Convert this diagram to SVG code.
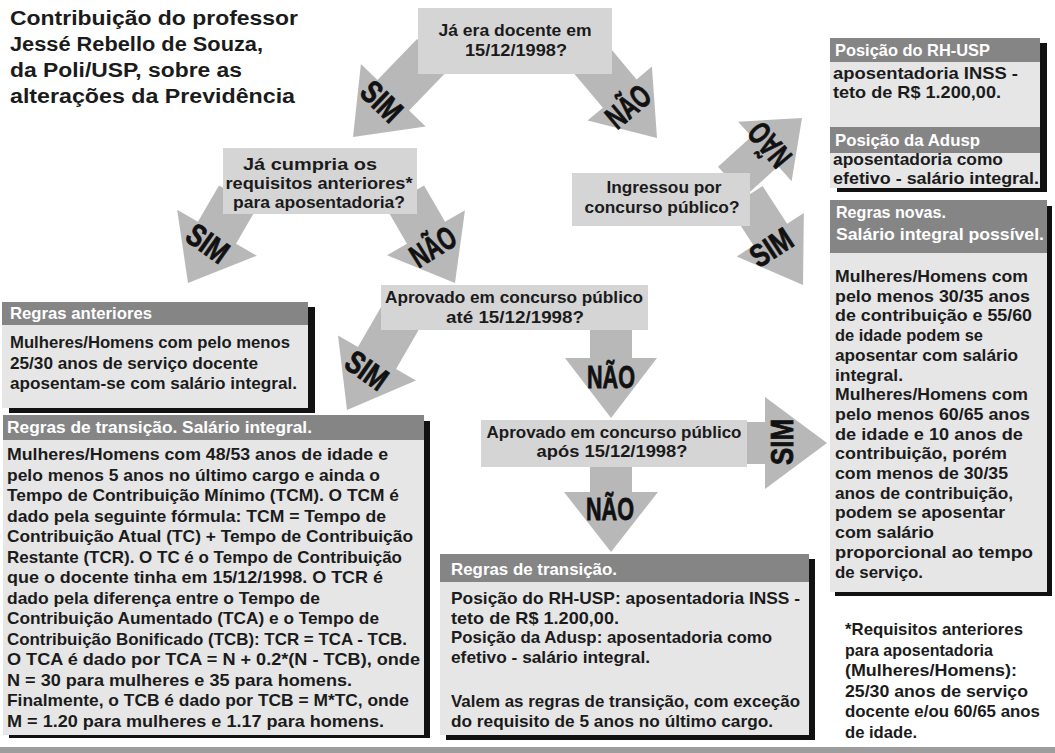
<svg xmlns="http://www.w3.org/2000/svg" width="1055" height="753" viewBox="0 0 1055 753">
<style>
.t{font-family:"Liberation Sans",Arial,sans-serif;font-weight:bold;fill:#1b1b1b}
.ti{font-size:20px}
.b{font-size:17px}
.h{font-size:16.5px;fill:#ffffff}
.q{font-size:16.5px;text-anchor:middle}
.lbl{font-family:"Liberation Sans",Arial,sans-serif;font-weight:bold;font-size:32px;text-anchor:middle;fill:#111;stroke:#111;stroke-width:0.8}
.arrow{fill:#b8b8b9}
.qbox{fill:#d5d5d6}
.body{fill:#e6e6e7}
.head{fill:#858586}
.shadow{fill:#111}
</style>
<rect x="0" y="0" width="1055" height="753" fill="#ffffff"/>
<rect x="0" y="747" width="1055" height="6" fill="#9d9d9d"/>

<g id="title">
<text class="t ti" x="10" y="25" textLength="288" lengthAdjust="spacingAndGlyphs">Contribuição do professor</text>
<text class="t ti" x="10" y="51" textLength="253" lengthAdjust="spacingAndGlyphs">Jessé Rebello de Souza,</text>
<text class="t ti" x="10" y="77" textLength="232" lengthAdjust="spacingAndGlyphs">da Poli/USP, sobre as</text>
<text class="t ti" x="10" y="103" textLength="285" lengthAdjust="spacingAndGlyphs">alterações da Previdência</text>
</g>

<g id="connectors">
<g transform="translate(353,137) rotate(134)"><polygon class="arrow" points="0,0 -58,-45 -58,-22 -115,-22 -115,22 -58,22 -58,45"/></g>
<g transform="translate(657,138) rotate(50)"><polygon class="arrow" points="0,0 -58,-42 -58,-22 -110,-22 -110,22 -58,22 -58,42"/></g>
<g transform="translate(188,283) rotate(120)"><polygon class="arrow" points="0,0 -58,-46 -58,-22 -100,-22 -100,22 -58,22 -58,46"/></g>
<g transform="translate(455,283) rotate(60)"><polygon class="arrow" points="0,0 -58,-45 -58,-22 -100,-22 -100,22 -58,22 -58,45"/></g>
<g transform="translate(347,410) rotate(120)"><polygon class="arrow" points="0,0 -60,-45 -60,-22 -110,-22 -110,22 -60,22 -60,45"/></g>
<g transform="translate(611,418) rotate(90)"><polygon class="arrow" points="0,0 -60,-46 -60,-21 -95,-21 -95,21 -60,21 -60,46"/></g>
<g transform="translate(827,443) rotate(0)"><polygon class="arrow" points="0,0 -62,-46 -62,-21 -130,-21 -130,21 -62,21 -62,46"/></g>
<g transform="translate(611,552) rotate(90)"><polygon class="arrow" points="0,0 -60,-47 -60,-21 -90,-21 -90,21 -60,21 -60,47"/></g>
<g transform="translate(802,118) rotate(-42)"><polygon class="arrow" points="0,0 -50,-40 -50,-20 -95,-20 -95,20 -50,20 -50,40"/></g>
<g transform="translate(803,285) rotate(57)"><polygon class="arrow" points="0,0 -60,-40 -60,-20 -105,-20 -105,20 -60,20 -60,40"/></g>

<g transform="translate(382,101) rotate(44)"><text class="lbl" x="0" y="11.5" textLength="44" lengthAdjust="spacingAndGlyphs">SIM</text></g>
<g transform="translate(627,105) rotate(-40)"><text class="lbl" x="0" y="13" textLength="48" lengthAdjust="spacingAndGlyphs">NÃO</text></g>
<g transform="translate(208,243) rotate(35)"><text class="lbl" x="0" y="11.5" textLength="44" lengthAdjust="spacingAndGlyphs">SIM</text></g>
<g transform="translate(432,245) rotate(-32)"><text class="lbl" x="0" y="13" textLength="48" lengthAdjust="spacingAndGlyphs">NÃO</text></g>
<g transform="translate(367,370) rotate(35)"><text class="lbl" x="0" y="11.5" textLength="44" lengthAdjust="spacingAndGlyphs">SIM</text></g>
<g transform="translate(611,375)"><text class="lbl" x="0" y="13" textLength="48" lengthAdjust="spacingAndGlyphs">NÃO</text></g>
<g transform="translate(781,442) rotate(-90)"><text class="lbl" x="0" y="11.5" textLength="46" lengthAdjust="spacingAndGlyphs">SIM</text></g>
<g transform="translate(610,507)"><text class="lbl" x="0" y="13" textLength="48" lengthAdjust="spacingAndGlyphs">NÃO</text></g>
<g transform="translate(768,146) rotate(-130)"><text class="lbl" x="0" y="13" textLength="48" lengthAdjust="spacingAndGlyphs">NÃO</text></g>
<g transform="translate(771,247) rotate(-33)"><text class="lbl" x="0" y="11.5" textLength="44" lengthAdjust="spacingAndGlyphs">SIM</text></g>
</g>

<g id="q-docente">
<rect class="qbox" x="418" y="8" width="194" height="66"/>
<text class="t q" x="515" y="36" textLength="153" lengthAdjust="spacingAndGlyphs">Já era docente em</text>
<text class="t q" x="516" y="56" textLength="102" lengthAdjust="spacingAndGlyphs">15/12/1998?</text>
</g>

<g id="q-requisitos">
<rect class="qbox" x="223" y="148" width="194" height="66"/>
<text class="t q" x="310" y="170" textLength="134" lengthAdjust="spacingAndGlyphs">Já cumpria os</text>
<text class="t q" x="319" y="189" textLength="187" lengthAdjust="spacingAndGlyphs">requisitos anteriores*</text>
<text class="t q" x="319" y="208" textLength="172" lengthAdjust="spacingAndGlyphs">para aposentadoria?</text>
</g>

<g id="q-ate">
<rect class="qbox" x="381" y="285" width="267" height="45"/>
<text class="t q" x="514" y="303" textLength="258" lengthAdjust="spacingAndGlyphs">Aprovado em concurso público</text>
<text class="t q" x="515" y="323" textLength="138" lengthAdjust="spacingAndGlyphs">até 15/12/1998?</text>
</g>

<g id="q-apos">
<rect class="qbox" x="481" y="420" width="266" height="47"/>
<text class="t q" x="614" y="438" textLength="255" lengthAdjust="spacingAndGlyphs">Aprovado em concurso público</text>
<text class="t q" x="612" y="457" textLength="151" lengthAdjust="spacingAndGlyphs">após 15/12/1998?</text>
</g>

<g id="q-ingressou">
<rect class="qbox" x="572" y="173" width="178" height="53"/>
<text class="t q" x="664" y="193" textLength="115" lengthAdjust="spacingAndGlyphs">Ingressou por</text>
<text class="t q" x="662" y="213" textLength="155" lengthAdjust="spacingAndGlyphs">concurso público?</text>
</g>

<g id="regras-anteriores">
<rect class="shadow" x="9" y="307" width="306" height="106"/>
<rect class="body" x="2" y="302" width="306" height="106"/>
<rect class="head" x="2" y="302" width="306" height="23"/>
<text class="t h" x="10" y="319" textLength="142" lengthAdjust="spacingAndGlyphs">Regras anteriores</text>
<text class="t b" x="10" y="348" textLength="280" lengthAdjust="spacingAndGlyphs">Mulheres/Homens com pelo menos</text>
<text class="t b" x="10" y="368.5" textLength="248" lengthAdjust="spacingAndGlyphs">25/30 anos de serviço docente</text>
<text class="t b" x="10" y="389" textLength="287" lengthAdjust="spacingAndGlyphs">aposentam-se com salário integral.</text>
</g>

<g id="regras-transicao-integral">
<rect class="shadow" x="9" y="421" width="421" height="317"/>
<rect class="body" x="3" y="415" width="421" height="320"/>
<rect class="head" x="3" y="415" width="421" height="25"/>
<text class="t h" x="7" y="433" textLength="305" lengthAdjust="spacingAndGlyphs">Regras de transição. Salário integral.</text>
<text class="t b" x="7" y="460" textLength="381" lengthAdjust="spacingAndGlyphs">Mulheres/Homens com 48/53 anos de idade e</text>
<text class="t b" x="7" y="480.5" textLength="373" lengthAdjust="spacingAndGlyphs">pelo menos 5 anos no último cargo e ainda o</text>
<text class="t b" x="7" y="501" textLength="392" lengthAdjust="spacingAndGlyphs">Tempo de Contribuição Mínimo (TCM). O TCM é</text>
<text class="t b" x="7" y="521.5" textLength="379" lengthAdjust="spacingAndGlyphs">dado pela seguinte fórmula: TCM = Tempo de</text>
<text class="t b" x="7" y="542" textLength="406" lengthAdjust="spacingAndGlyphs">Contribuição Atual (TC) + Tempo de Contribuição</text>
<text class="t b" x="7" y="562.5" textLength="395" lengthAdjust="spacingAndGlyphs">Restante (TCR). O TC é o Tempo de Contribuição</text>
<text class="t b" x="7" y="583" textLength="376" lengthAdjust="spacingAndGlyphs">que o docente tinha em 15/12/1998. O TCR é</text>
<text class="t b" x="7" y="603.5" textLength="313" lengthAdjust="spacingAndGlyphs">dado pela diferença entre o Tempo de</text>
<text class="t b" x="7" y="624" textLength="372" lengthAdjust="spacingAndGlyphs">Contribuição Aumentado (TCA) e o Tempo de</text>
<text class="t b" x="7" y="644.5" textLength="400" lengthAdjust="spacingAndGlyphs">Contribuição Bonificado (TCB): TCR = TCA - TCB.</text>
<text class="t b" x="7" y="665" textLength="413" lengthAdjust="spacingAndGlyphs">O TCA é dado por TCA = N + 0.2*(N - TCB), onde</text>
<text class="t b" x="7" y="685.5" textLength="345" lengthAdjust="spacingAndGlyphs">N = 30 para mulheres e 35 para homens.</text>
<text class="t b" x="7" y="706" textLength="402" lengthAdjust="spacingAndGlyphs">Finalmente, o TCB é dado por TCB = M*TC, onde</text>
<text class="t b" x="7" y="726.5" textLength="377" lengthAdjust="spacingAndGlyphs">M = 1.20 para mulheres e 1.17 para homens.</text>
</g>

<g id="regras-transicao">
<rect class="shadow" x="446" y="559" width="369" height="181"/>
<rect class="body" x="440" y="554" width="369" height="181"/>
<rect class="head" x="440" y="554" width="369" height="28"/>
<text class="t h" x="451" y="575" textLength="166" lengthAdjust="spacingAndGlyphs">Regras de transição.</text>
<text class="t b" x="451" y="604" textLength="349" lengthAdjust="spacingAndGlyphs">Posição do RH-USP: aposentadoria INSS -</text>
<text class="t b" x="451" y="624" textLength="168" lengthAdjust="spacingAndGlyphs">teto de R$ 1.200,00.</text>
<text class="t b" x="451" y="643" textLength="321" lengthAdjust="spacingAndGlyphs">Posição da Adusp: aposentadoria como</text>
<text class="t b" x="451" y="663" textLength="199" lengthAdjust="spacingAndGlyphs">efetivo - salário integral.</text>
<text class="t b" x="451" y="707" textLength="349" lengthAdjust="spacingAndGlyphs">Valem as regras de transição, com exceção</text>
<text class="t b" x="451" y="727" textLength="322" lengthAdjust="spacingAndGlyphs">do requisito de 5 anos no último cargo.</text>
</g>

<g id="posicoes">
<rect class="shadow" x="837" y="43" width="210" height="149"/>
<rect class="body" x="830" y="38" width="210" height="150"/>
<rect class="head" x="830" y="38" width="210" height="24"/>
<rect class="head" x="830" y="127" width="210" height="26"/>
<text class="t h" x="835" y="56" textLength="155" lengthAdjust="spacingAndGlyphs">Posição do RH-USP</text>
<text class="t b" x="833" y="79" textLength="185" lengthAdjust="spacingAndGlyphs">aposentadoria INSS -</text>
<text class="t b" x="833" y="98" textLength="168" lengthAdjust="spacingAndGlyphs">teto de R$ 1.200,00.</text>
<text class="t h" x="835" y="146" textLength="145" lengthAdjust="spacingAndGlyphs">Posição da Adusp</text>
<text class="t b" x="833" y="165" textLength="170" lengthAdjust="spacingAndGlyphs">aposentadoria como</text>
<text class="t b" x="833" y="184" textLength="206" lengthAdjust="spacingAndGlyphs">efetivo - salário integral.</text>
</g>

<g id="regras-novas">
<rect class="shadow" x="835" y="206" width="217" height="390"/>
<rect class="body" x="830" y="200" width="217" height="392"/>
<rect class="head" x="830" y="200" width="217" height="53"/>
<text class="t h" x="836" y="218" textLength="110" lengthAdjust="spacingAndGlyphs">Regras novas.</text>
<text class="t h" x="836" y="240" textLength="208" lengthAdjust="spacingAndGlyphs">Salário integral possível.</text>
<text class="t b" x="835" y="282" textLength="193" lengthAdjust="spacingAndGlyphs">Mulheres/Homens com</text>
<text class="t b" x="835" y="301.7" textLength="195" lengthAdjust="spacingAndGlyphs">pelo menos 30/35 anos</text>
<text class="t b" x="835" y="321.4" textLength="197" lengthAdjust="spacingAndGlyphs">de contribuição e 55/60</text>
<text class="t b" x="835" y="341.1" textLength="148" lengthAdjust="spacingAndGlyphs">de idade podem se</text>
<text class="t b" x="835" y="360.8" textLength="183" lengthAdjust="spacingAndGlyphs">aposentar com salário</text>
<text class="t b" x="835" y="380.5" textLength="68" lengthAdjust="spacingAndGlyphs">integral.</text>
<text class="t b" x="835" y="400.2" textLength="193" lengthAdjust="spacingAndGlyphs">Mulheres/Homens com</text>
<text class="t b" x="835" y="419.9" textLength="195" lengthAdjust="spacingAndGlyphs">pelo menos 60/65 anos</text>
<text class="t b" x="835" y="439.6" textLength="188" lengthAdjust="spacingAndGlyphs">de idade e 10 anos de</text>
<text class="t b" x="835" y="459.3" textLength="172" lengthAdjust="spacingAndGlyphs">contribuição, porém</text>
<text class="t b" x="835" y="479" textLength="173" lengthAdjust="spacingAndGlyphs">com menos de 30/35</text>
<text class="t b" x="835" y="498.7" textLength="178" lengthAdjust="spacingAndGlyphs">anos de contribuição,</text>
<text class="t b" x="835" y="518.4" textLength="170" lengthAdjust="spacingAndGlyphs">podem se aposentar</text>
<text class="t b" x="835" y="538.1" textLength="99" lengthAdjust="spacingAndGlyphs">com salário</text>
<text class="t b" x="835" y="557.8" textLength="198" lengthAdjust="spacingAndGlyphs">proporcional ao tempo</text>
<text class="t b" x="835" y="577.5" textLength="88" lengthAdjust="spacingAndGlyphs">de serviço.</text>
</g>

<g id="nota">
<text class="t b" x="845" y="635" textLength="178" lengthAdjust="spacingAndGlyphs">*Requisitos anteriores</text>
<text class="t b" x="845" y="655.5" textLength="148" lengthAdjust="spacingAndGlyphs">para aposentadoria</text>
<text class="t b" x="845" y="676" textLength="172" lengthAdjust="spacingAndGlyphs">(Mulheres/Homens):</text>
<text class="t b" x="845" y="696.5" textLength="183" lengthAdjust="spacingAndGlyphs">25/30 anos de serviço</text>
<text class="t b" x="845" y="717" textLength="195" lengthAdjust="spacingAndGlyphs">docente e/ou 60/65 anos</text>
<text class="t b" x="845" y="737.5" textLength="72" lengthAdjust="spacingAndGlyphs">de idade.</text>
</g>
</svg>
